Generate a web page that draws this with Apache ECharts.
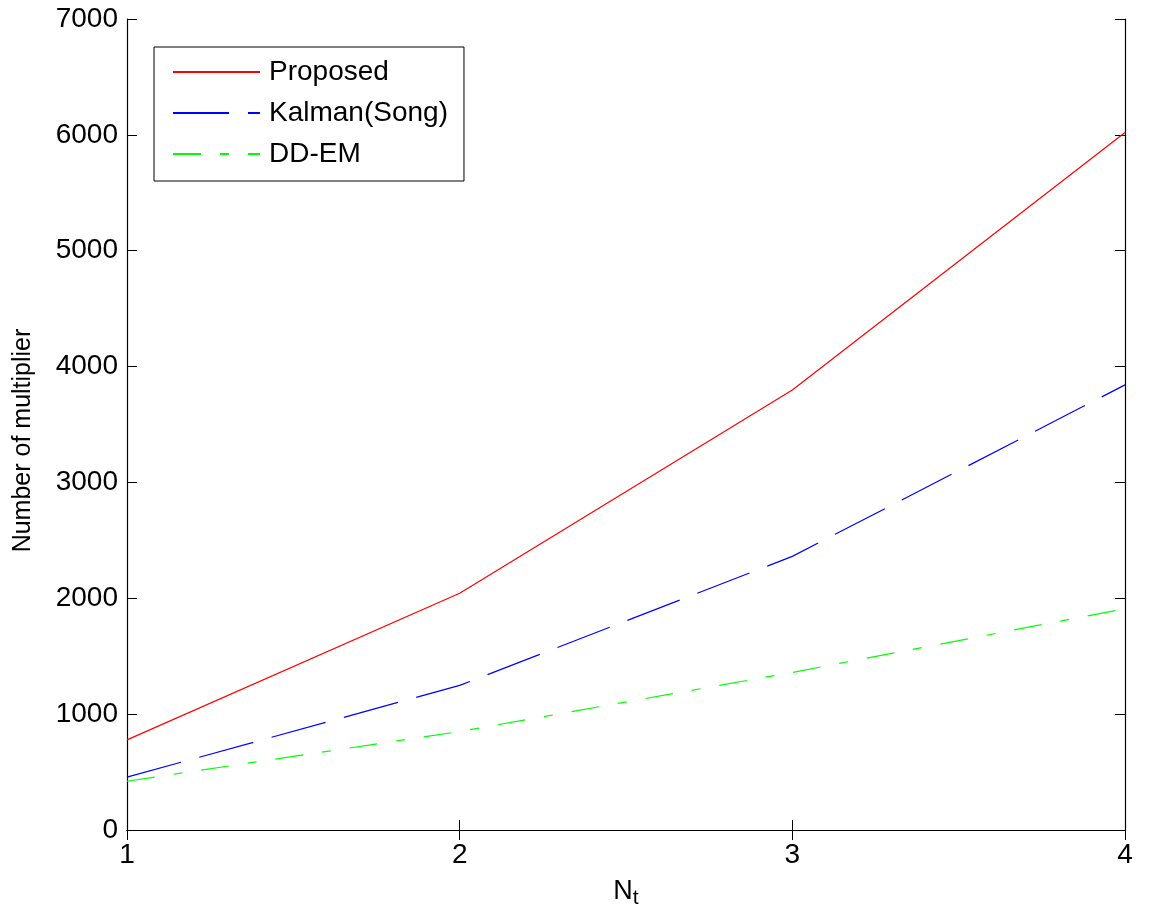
<!DOCTYPE html>
<html>
<head>
<meta charset="utf-8">
<script src="https://cdn.jsdelivr.net/npm/echarts@6/dist/echarts.min.js"></script>
<style>
  html, body { margin: 0; padding: 0; background: #ffffff; }
  #chart { width: 1149px; height: 921px; }
</style>
</head>
<body>
<div id="chart"></div>
<script>
// Number of transmit antennas N_t
const nt = [1, 2, 3, 4];

// Number of multipliers for each method
const proposed = [778, 2043, 3798, 6020];
const kalmanSong = [456, 1248, 2362, 3842];
const ddEm = [421, 850, 1360, 1910];

const yTicks = [0, 1000, 2000, 3000, 4000, 5000, 6000, 7000];

const FONT = '"Liberation Sans", Arial, sans-serif';

function pairs(ys) {
  return nt.map((x, i) => [x, ys[i]]);
}

const chart = echarts.init(document.getElementById('chart'), null, { renderer: 'canvas' });

const axisLine = { show: true, lineStyle: { color: '#000', width: 1.2 } };
const tickIn = { show: true, inside: true, length: 10, lineStyle: { color: '#000', width: 1 } };
const plain = v => String(v);

chart.setOption({
  animation: false,
  backgroundColor: '#ffffff',
  grid: { left: 127, right: 24, top: 19, bottom: 91, containLabel: false },
  legend: {
    orient: 'vertical',
    left: 154,
    top: 47,
    backgroundColor: '#ffffff',
    borderColor: '#000',
    borderWidth: 1,
    padding: [11, 16, 13, 18],
    itemGap: 13,
    itemWidth: 87,
    itemHeight: 28,
    itemStyle: { opacity: 0, borderWidth: 0 },
    textStyle: { fontFamily: FONT, fontSize: 28, color: '#000', lineHeight: 28, padding: [0, 0, 0, 4] },
    data: ['Proposed', 'Kalman(Song)', 'DD-EM']
  },
  xAxis: [
    {
      type: 'value', min: 1, max: 4, interval: 1, position: 'bottom',
      name: '{n|N}{s|t}',
      nameLocation: 'middle',
      nameGap: 44,
      nameTextStyle: {
        rich: {
          n: { fontFamily: FONT, fontSize: 27, color: '#000' },
          s: { fontFamily: FONT, fontSize: 21, color: '#000', verticalAlign: 'bottom', padding: [14, 0, 0, 0] }
        }
      },
      axisLine: axisLine, axisTick: tickIn, splitLine: { show: false },
      axisLabel: { fontFamily: FONT, fontSize: 28, color: '#000', margin: 11, formatter: plain }
    },
    {
      type: 'value', min: 1, max: 4, interval: 1, position: 'top',
      axisLine: axisLine, axisTick: tickIn, splitLine: { show: false },
      axisLabel: { show: false }
    }
  ],
  yAxis: [
    {
      type: 'value', min: yTicks[0], max: yTicks[yTicks.length - 1], interval: 1000, position: 'left',
      name: 'Number of multiplier',
      nameLocation: 'middle',
      nameGap: 91,
      nameRotate: 90,
      nameTextStyle: { fontFamily: FONT, fontSize: 25, color: '#000', padding: [0, 32, 0, 0] },
      axisLine: axisLine, axisTick: tickIn, splitLine: { show: false },
      axisLabel: { fontFamily: FONT, fontSize: 28, color: '#000', margin: 9, formatter: plain }
    },
    {
      type: 'value', min: yTicks[0], max: yTicks[yTicks.length - 1], interval: 1000, position: 'right',
      axisLine: axisLine, axisTick: tickIn, splitLine: { show: false },
      axisLabel: { show: false }
    }
  ],
  series: [
    {
      name: 'Proposed', type: 'line', data: pairs(proposed),
      showSymbol: false, symbol: 'none',
      lineStyle: { color: '#ff0000', width: 1.2 },
      itemStyle: { color: '#ff0000' }
    },
    {
      name: 'Kalman(Song)', type: 'line', data: pairs(kalmanSong),
      showSymbol: false, symbol: 'none',
      lineStyle: { color: '#0000ff', width: 1.2, type: [56, 19] },
      itemStyle: { color: '#0000ff' }
    },
    {
      name: 'DD-EM', type: 'line', data: pairs(ddEm),
      showSymbol: false, symbol: 'none',
      lineStyle: { color: '#00ff00', width: 1.2, type: [28, 19, 9, 19] },
      itemStyle: { color: '#00ff00' }
    }
  ]
});
</script>
</body>
</html>
